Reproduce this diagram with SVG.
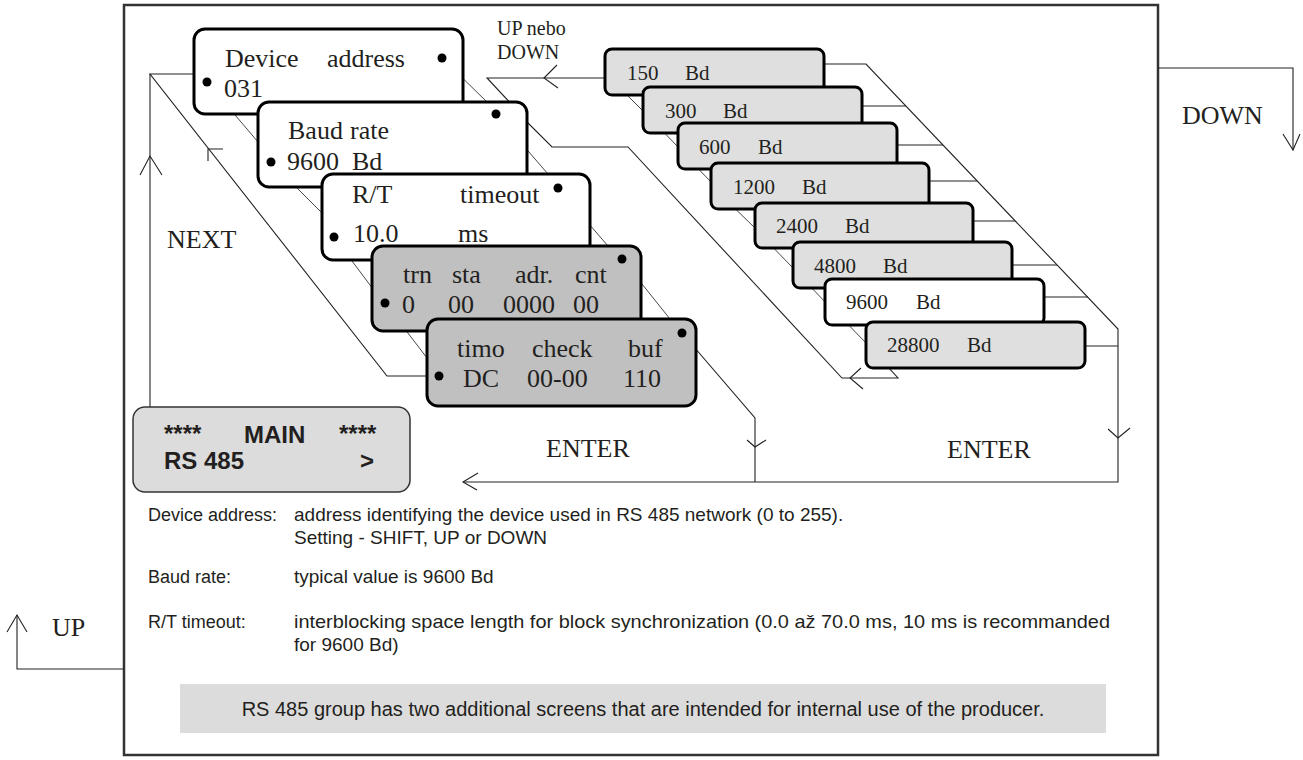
<svg xmlns="http://www.w3.org/2000/svg" width="1303" height="760" viewBox="0 0 1303 760">
<style>
.card{stroke:#000;stroke-width:3}
.w{fill:#fff}.dk{fill:#c0c0c0}.lt{fill:#dfdfdf}
.ln{fill:none;stroke:#222;stroke-width:1.1}
.dl{fill:none;stroke:#333;stroke-width:0.9}
.dot{fill:#000}
.t{font-family:"Liberation Serif","Times New Roman",serif;fill:#231f20}
.t26{font-size:26px}.t21{font-size:21px}.t20{font-size:20px}
.s{font-family:"Liberation Sans",Arial,sans-serif;fill:#231f20;font-size:19px}
.lb{font-size:18px}
.b{font-family:"Liberation Sans",Arial,sans-serif;fill:#231f20;font-size:24px;font-weight:bold}
</style>
<rect width="1303" height="760" fill="#fff"/>
<rect id="frame" x="124" y="5" width="1034" height="750" fill="none" stroke="#333" stroke-width="2.5"/>

<g id="connectors">
  <path class="dl" d="M207 82 L258 142"/>
  <path class="dl" d="M442 58 L487 102"/>
  <path class="dl" d="M271 162 L322 213"/>
  <path class="dl" d="M496 114 L548 174"/>
  <path class="dl" d="M334 237 L373 289"/>
  <path class="dl" d="M558 188 L608 246"/>
  <path class="dl" d="M385 303 L427 358"/>
  <path class="dl" d="M622 259 L670 319"/>
  <path class="ln" d="M682 333 L755 418 L755 482"/>
  <path class="ln" d="M747 440 L755 447 L766 440"/>
  <path class="ln" d="M439 376 L387 376 L150 74 L194 74"/>
  <path class="ln" d="M150 74 L150 407"/>
  <path class="ln" d="M140 175 L150 156 L162 175"/>
  <path class="ln" d="M223 149 L208 149 L208 161"/>
  <path class="ln" d="M605 78 L487 78 L516 109"/>
  <path class="ln" d="M557 65 L544 78 L558 88"/>
  <circle cx="519" cy="113" r="3" fill="#fff" stroke="#000" stroke-width="1.5"/>
  <path class="ln" d="M521 116 L552 147 L628 147 L842 378 L898 378 L875 353"/>
  <path class="ln" d="M861 368 L850 378 L863 389"/>
  <path class="dl" d="M615 83 L643 111"/>
  <path class="dl" d="M653 121 L678 147"/>
  <path class="dl" d="M685 155 L711 182"/>
  <path class="dl" d="M720 194 L755 228"/>
  <path class="dl" d="M759 233 L793 268"/>
  <path class="dl" d="M806 282 L830 307"/>
  <path class="dl" d="M837 313 L866 343"/>
  <path class="ln" d="M824 64 L866 64 L1118 329 L1118 482 L463 482"/>
  <path class="ln" d="M862 106 L906 106"/>
  <path class="ln" d="M897 145 L943 145"/>
  <path class="ln" d="M929 181 L977 181"/>
  <path class="ln" d="M973 221 L1015 221"/>
  <path class="ln" d="M1012 265 L1057 265"/>
  <path class="ln" d="M1044 297 L1088 297"/>
  <path class="ln" d="M1085 346 L1118 346"/>
  <path class="ln" d="M1108 429 L1118 438 L1130 428"/>
  <path class="ln" d="M478 473 L463 482 L477 490"/>
  <path class="ln" d="M1158 68 L1293 68 L1293 150"/>
  <path class="ln" d="M1283 134 L1293 150 L1300 134"/>
  <path class="ln" d="M124 669 L17 669 L17 615"/>
  <path class="ln" d="M7 632 L17 615 L27 632"/>
</g>

<g id="device-address">
  <rect class="card w" x="194" y="29" width="269" height="85" rx="11"/>
  <text class="t t26" x="225" y="67">Device</text><text class="t t26" x="327" y="67">address</text>
  <text class="t t26" x="224" y="97">031</text>
  <circle class="dot" cx="207" cy="82" r="4.5"/><circle class="dot" cx="442" cy="58" r="4.5"/>
</g>
<g id="baud-rate">
  <rect class="card w" x="258" y="102" width="269" height="85" rx="11"/>
  <text class="t t26" x="288" y="139">Baud</text><text class="t t26" x="350" y="139">rate</text>
  <text class="t t26" x="287" y="170">9600</text><text class="t t26" x="352" y="170">Bd</text>
  <circle class="dot" cx="271" cy="162" r="4.5"/><circle class="dot" cx="496" cy="114" r="4.5"/>
</g>
<g id="rt-timeout">
  <rect class="card w" x="322" y="174" width="268" height="86" rx="11"/>
  <text class="t t26" x="352" y="203">R/T</text><text class="t t26" x="460" y="203">timeout</text>
  <text class="t t26" x="353" y="242">10.0</text><text class="t t26" x="458" y="242">ms</text>
  <circle class="dot" cx="334" cy="237" r="4.5"/><circle class="dot" cx="558" cy="188" r="4.5"/>
</g>
<g id="trn-sta">
  <rect class="card dk" x="372" y="246" width="269" height="85" rx="11"/>
  <text class="t t26" x="403" y="283">trn</text><text class="t t26" x="452" y="283">sta</text><text class="t t26" x="515" y="283">adr.</text><text class="t t26" x="575" y="283">cnt</text>
  <text class="t t26" x="402" y="313">0</text><text class="t t26" x="448" y="313">00</text><text class="t t26" x="503" y="313">0000</text><text class="t t26" x="573" y="313">00</text>
  <circle class="dot" cx="385" cy="303" r="4.5"/><circle class="dot" cx="622" cy="259" r="4.5"/>
</g>
<g id="timo-check">
  <rect class="card dk" x="427" y="319" width="269" height="87" rx="11"/>
  <text class="t t26" x="457" y="357">timo</text><text class="t t26" x="532" y="357">check</text><text class="t t26" x="628" y="357">buf</text>
  <text class="t t26" x="463" y="387">DC</text><text class="t t26" x="527" y="387">00-00</text><text class="t t26" x="623" y="387">110</text>
  <circle class="dot" cx="439" cy="376" r="4.5"/><circle class="dot" cx="682" cy="333" r="4.5"/>
</g>
<g id="main">
  <rect x="133" y="407" width="277" height="85" rx="12" fill="#dcdcdc" stroke="#333" stroke-width="1.5"/>
  <text class="b" x="164" y="442">****</text><text class="b" x="244" y="443">MAIN</text><text class="b" x="339" y="442">****</text>
  <text class="b" x="164" y="469">RS 485</text><text class="b" x="360" y="469">&gt;</text>
</g>

<g id="bd150"><rect class="card lt" x="605" y="49" width="219" height="46" rx="7"/><text class="t t21" x="627" y="80">150</text><text class="t t21" x="685" y="80">Bd</text></g>
<g id="bd300"><rect class="card lt" x="643" y="87" width="219" height="46" rx="7"/><text class="t t21" x="665" y="118">300</text><text class="t t21" x="723" y="118">Bd</text></g>
<g id="bd600"><rect class="card lt" x="678" y="123" width="219" height="46" rx="7"/><text class="t t21" x="699" y="154">600</text><text class="t t21" x="758" y="154">Bd</text></g>
<g id="bd1200"><rect class="card lt" x="711" y="163" width="218" height="46" rx="7"/><text class="t t21" x="733" y="194">1200</text><text class="t t21" x="802" y="194">Bd</text></g>
<g id="bd2400"><rect class="card lt" x="755" y="203" width="218" height="45" rx="7"/><text class="t t21" x="776" y="233">2400</text><text class="t t21" x="845" y="233">Bd</text></g>
<g id="bd4800"><rect class="card lt" x="793" y="242" width="219" height="46" rx="7"/><text class="t t21" x="814" y="273">4800</text><text class="t t21" x="883" y="273">Bd</text></g>
<g id="bd9600"><rect class="card w" x="825" y="279" width="219" height="46" rx="7"/><text class="t t21" x="846" y="309">9600</text><text class="t t21" x="916" y="309">Bd</text></g>
<g id="bd28800"><rect class="card lt" x="866" y="322" width="219" height="46" rx="7"/><text class="t t21" x="887" y="352">28800</text><text class="t t21" x="967" y="352">Bd</text></g>

<g id="labels">
  <text class="t t20" x="497" y="35">UP nebo</text>
  <text class="t t20" x="497" y="59">DOWN</text>
  <text class="t t26" x="167" y="248">NEXT</text>
  <text class="t t26" x="546" y="457">ENTER</text>
  <text class="t t26" x="947" y="458">ENTER</text>
  <text class="t t26" x="1182" y="124">DOWN</text>
  <text class="t t26" x="52" y="636">UP</text>
</g>

<g id="notes">
  <text class="s lb" x="148" y="521">Device address:</text>
  <text class="s" x="294" y="521">address identifying the device used in RS 485 network (0 to 255).</text>
  <text class="s" x="294" y="544">Setting - SHIFT, UP or DOWN</text>
  <text class="s lb" x="148" y="583">Baud rate:</text>
  <text class="s" x="294" y="583">typical value is 9600 Bd</text>
  <text class="s lb" x="148" y="628">R/T timeout:</text>
  <text class="s" x="294" y="628" textLength="816" lengthAdjust="spacingAndGlyphs">interblocking space length for block synchronization (0.0 až 70.0 ms, 10 ms is recommanded</text>
  <text class="s" x="294" y="651">for 9600 Bd)</text>
  <rect x="180" y="684" width="926" height="49" fill="#dcdcdc"/>
  <text class="s" x="643" y="716" text-anchor="middle" style="font-size:20px">RS 485 group has two additional screens that are intended for internal use of the producer.</text>
</g>
</svg>
